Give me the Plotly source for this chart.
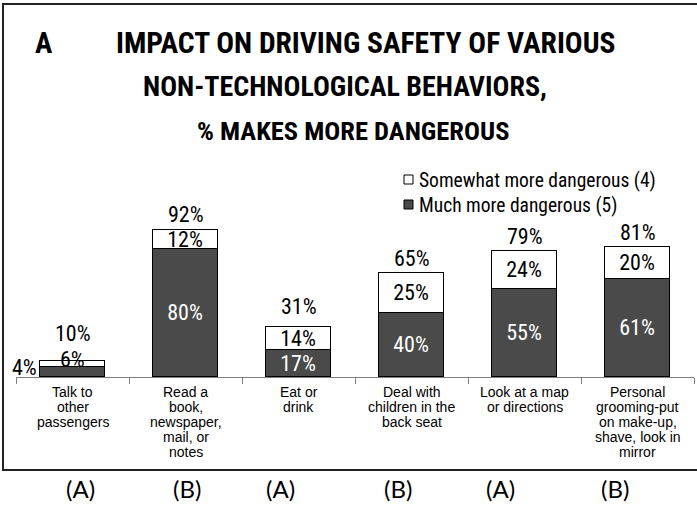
import plotly.graph_objects as go

# ---- data -------------------------------------------------------------
categories = [
    "Talk to<br>other<br>passengers",
    "Read a<br>book,<br>newspaper,<br>mail, or<br>notes",
    "Eat or<br>drink",
    "Deal with<br>children in the<br>back seat",
    "Look at a map<br>or directions",
    "Personal<br>grooming-put<br>on make-up,<br>shave, look in<br>mirror",
]
much_more = [6, 80, 17, 40, 55, 61]        # Much more dangerous (5)
somewhat_more = [4, 12, 14, 25, 24, 20]    # Somewhat more dangerous (4)
totals = [10, 92, 31, 65, 79, 81]
groups = ["(A)", "(B)", "(A)", "(B)", "(A)", "(B)"]

# ---- styling ------------------------------------------------------------
NARROW = "Roboto Condensed, Liberation Sans Narrow, Arial Narrow, sans-serif"
DARK = "#4a4a4a"
VAL = 22
W, H = 697, 505
L, R, T, B = 16, 3, 137, 128
PW, PH = W - L - R, H - T - B


def px_x(px):
    return (px - L) / PW


def px_y(py):
    return (H - B - py) / PH


x = [i + 0.5 for i in range(len(categories))]

traces = [
    dict(y=much_more, name="Much more dangerous (5)", fill=DARK, ink="white"),
    dict(y=somewhat_more, name="Somewhat more dangerous (4)", fill="white", ink="black"),
]

fig = go.Figure()
for tr in traces:
    fig.add_bar(
        x=x, y=tr["y"], name=tr["name"], width=0.58, showlegend=False,
        marker=dict(color=tr["fill"], line=dict(color="black", width=1)),
        text=[""] + [f"{v}%" for v in tr["y"][1:]],
        textposition="inside", insidetextanchor="middle", constraintext="none",
        textfont=dict(family=NARROW, size=VAL, color=tr["ink"]),
    )

ann = []
shapes = []
# totals above each stack
lift = [13, 1, 6, 0, 0, 0]
for xi, t, s in zip(x, totals, lift):
    ann.append(dict(x=xi, y=t, xref="x", yref="y", text=f"{t}%", showarrow=False,
                    yanchor="bottom", yshift=s,
                    font=dict(family=NARROW, size=VAL, color="black")))
# segment labels of the thin first bar sit outside it
ann.append(dict(x=x[0] - 0.29, y=much_more[0], xref="x", yref="y",
                text=f"{somewhat_more[0]}%", showarrow=False,
                xanchor="right", yanchor="middle", xshift=-1,
                font=dict(family=NARROW, size=VAL, color="black")))
ann.append(dict(x=x[0], y=totals[0], xref="x", yref="y",
                text=f"{much_more[0]}%", showarrow=False,
                yanchor="middle", yshift=2,
                font=dict(family=NARROW, size=VAL, color="black")))

# category labels, one line at a time for tight leading
for xi, cat in zip(x, categories):
    for k, line in enumerate(cat.split("<br>")):
        ann.append(dict(x=xi, y=px_y(392 + 15 * k), xref="x", yref="paper",
                        text=line, showarrow=False, yanchor="middle",
                        font=dict(family="Liberation Sans, Arial", size=14, color="black")))

# group letters under the frame
group_px = [64, 171, 280, 398, 517, 631]
for gx, g in zip(group_px, groups):
    ann.append(dict(x=px_x(gx), y=px_y(488), xref="paper", yref="paper",
                    text=g, showarrow=False, yanchor="middle",
                    font=dict(family="Lato, Open Sans, sans-serif", size=24, color="black")))

# legend: white series listed first
for k, tr in enumerate(reversed(traces)):
    cy = 180 + 25 * k
    shapes.append(dict(type="rect", xref="paper", yref="paper",
                       x0=px_x(404), x1=px_x(413), y0=px_y(cy - 5), y1=px_y(cy + 4),
                       fillcolor=tr["fill"], line=dict(color="black", width=1)))
    ann.append(dict(x=px_x(417), y=px_y(cy), xref="paper", yref="paper",
                    text=tr["name"], showarrow=False, xanchor="left", yanchor="middle",
                    font=dict(family=NARROW, size=19.5, color="black")))

# title lines
ann.append(dict(x=px_x(33), y=px_y(43), xref="paper", yref="paper", text="<b>A</b>",
                showarrow=False, xanchor="left", yanchor="middle",
                font=dict(family=NARROW, size=29, color="black")))
for cx, cy, size, line in [(366, 43, 29.5, "IMPACT ON DRIVING SAFETY OF VARIOUS"),
                           (345, 86, 28, "NON-TECHNOLOGICAL BEHAVIORS,"),
                           (353, 130, 26.5, "% MAKES MORE DANGEROUS")]:
    ann.append(dict(x=px_x(cx), y=px_y(cy), xref="paper", yref="paper",
                    text=f"<b>{line}</b>", showarrow=False, yanchor="middle",
                    font=dict(family=NARROW, size=size, color="black")))

# frame around the chart (open on the right)
shapes.append(dict(type="path", xref="paper", yref="paper",
                   path=f"M {px_x(700)} {px_y(4)} L {px_x(3)} {px_y(4)} "
                        f"L {px_x(3)} {px_y(470)} L {px_x(700)} {px_y(470)}",
                   line=dict(color="#222", width=2)))

fig.update_layout(
    width=W, height=H, margin=dict(l=L, r=R, t=T, b=B),
    paper_bgcolor="white", plot_bgcolor="white",
    barmode="stack", bargap=0,
    uniformtext=dict(minsize=VAL, mode="show"),
    xaxis=dict(range=[0, 6], tickvals=list(range(7)), ticks="outside", ticklen=6,
               tickcolor="#808080", showline=True, linecolor="#808080",
               showticklabels=False, showgrid=False, zeroline=False, fixedrange=True),
    yaxis=dict(range=[0, PH / 1.6], visible=False, fixedrange=True),
    annotations=ann, shapes=shapes,
)

fig.write_html("out.html")
